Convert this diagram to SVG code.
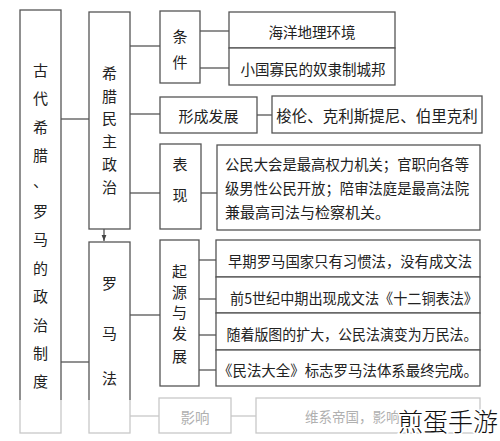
<svg xmlns="http://www.w3.org/2000/svg" width="500" height="441" viewBox="0 0 500 441">
<defs>
<linearGradient id="fade" gradientUnits="userSpaceOnUse" x1="0" y1="0" x2="0" y2="441">
<stop offset="0" stop-color="#555"/>
<stop offset="0.906" stop-color="#555"/>
<stop offset="0.906" stop-color="#c8c8c8"/>
<stop offset="1" stop-color="#c8c8c8"/>
</linearGradient>
<marker id="arr" viewBox="0 0 10 10" refX="10" refY="5" markerWidth="5" markerHeight="5" orient="auto">
<path d="M0,1 L10,5 L0,9 z" fill="#444"/>
</marker>
</defs>
<style>
rect{fill:#fff;stroke:#555;stroke-width:1.3}
rect.f{stroke:url(#fade)}
rect.g{stroke:#c8c8c8}
line{stroke:#555;stroke-width:1.3}
line.g{stroke:#c8c8c8}
text{font-family:"Noto Sans CJK SC","Noto Sans",sans-serif;fill:#222;font-size:15px;text-anchor:middle;dominant-baseline:central}
text.s{font-size:14.5px}
text.l{text-anchor:start}
text.gt{fill:#b0b0b0;font-size:13.5px}
</style>
<rect width="500" height="441" style="fill:#fff;stroke:none"/>
<g id="connectors">
<line x1="61" y1="119" x2="89" y2="119"/>
<line x1="61" y1="362" x2="89" y2="362"/>
<line x1="104" y1="229" x2="104" y2="241" marker-end="url(#arr)"/>
<line x1="130" y1="46" x2="160" y2="46"/>
<line x1="130" y1="114" x2="160" y2="114"/>
<line x1="130" y1="193" x2="160" y2="193"/>
<line x1="200" y1="31" x2="229" y2="31"/>
<line x1="200" y1="68" x2="229" y2="68"/>
<line x1="257" y1="115" x2="272" y2="115"/>
<line x1="201" y1="193" x2="217" y2="193"/>
<line x1="130" y1="315" x2="160" y2="315"/>
<line x1="199" y1="260" x2="216" y2="260"/>
<line x1="199" y1="299" x2="216" y2="299"/>
<line x1="199" y1="335" x2="216" y2="335"/>
<line x1="199" y1="370" x2="216" y2="370"/>
<line class="g" x1="130" y1="416" x2="159" y2="416"/>
<line class="g" x1="231" y1="416" x2="256" y2="416"/>
</g>
<g id="root">
<rect class="f" x="20" y="10" width="41" height="423"/>
<text x="40.5" y="69">古</text><text x="40.5" y="97.5">代</text><text x="40.5" y="126">希</text><text x="40.5" y="154">腊</text><text x="40.5" y="180">、</text><text x="40.5" y="210">罗</text><text x="40.5" y="238">马</text><text x="40.5" y="267">的</text><text x="40.5" y="295">政</text><text x="40.5" y="324">治</text><text x="40.5" y="352">制</text><text x="40.5" y="380">度</text>
</g>
<g id="greece">
<rect x="89" y="12" width="41" height="217"/>
<text x="109.5" y="72">希</text><text x="109.5" y="95">腊</text><text x="109.5" y="117">民</text><text x="109.5" y="140">主</text><text x="109.5" y="163">政</text><text x="109.5" y="186">治</text>
</g>
<g id="rome">
<rect class="f" x="89" y="242" width="41" height="191"/>
<text x="109.5" y="282">罗</text><text x="109.5" y="332">马</text><text x="109.5" y="377">法</text>
</g>
<g id="cond">
<rect x="160" y="11" width="40" height="72"/>
<text x="180" y="35">条</text><text x="180" y="61">件</text>
</g>
<g id="cond1">
<rect x="229" y="12" width="166" height="36"/>
<text class="s" x="312" y="31">海洋地理环境</text>
</g>
<g id="cond2">
<rect x="229" y="48" width="166" height="37"/>
<text class="s" x="313" y="68">小国寡民的奴隶制城邦</text>
</g>
<g id="dev">
<rect x="160" y="97" width="97" height="36"/>
<text x="208.5" y="115">形成发展</text>
</g>
<g id="dev1">
<rect x="272" y="96" width="210" height="37"/>
<text x="377" y="115" style="font-size:15.5px">梭伦、克利斯提尼、伯里克利</text>
</g>
<g id="show">
<rect x="160" y="144" width="41" height="85"/>
<text x="180" y="163">表</text><text x="180" y="194">现</text>
</g>
<g id="show1">
<rect x="217" y="145" width="263" height="85"/>
<text class="l" x="225" y="163" textLength="244" lengthAdjust="spacingAndGlyphs">公民大会是最高权力机关；官职向各等</text>
<text class="l" x="225" y="187" textLength="244" lengthAdjust="spacingAndGlyphs">级男性公民开放；陪审法庭是最高法院</text>
<text class="l" x="225" y="211">兼最高司法与检察机关。</text>
</g>
<g id="origin">
<rect x="160" y="240" width="39" height="146"/>
<text x="179.5" y="270">起</text><text x="179.5" y="291">源</text><text x="179.5" y="311">与</text><text x="179.5" y="332">发</text><text x="179.5" y="355">展</text>
</g>
<g id="origin-rows">
<rect x="216" y="240" width="264" height="37"/>
<rect x="216" y="277" width="264" height="36"/>
<rect x="216" y="313" width="264" height="37"/>
<rect x="216" y="350" width="264" height="36"/>
<text class="s" x="350" y="260" textLength="244" lengthAdjust="spacingAndGlyphs">早期罗马国家只有习惯法，没有成文法</text>
<text class="s" x="354" y="297" textLength="248" lengthAdjust="spacingAndGlyphs">前5世纪中期出现成文法《十二铜表法》</text>
<text class="s" x="352" y="333" textLength="251" lengthAdjust="spacingAndGlyphs">随着版图的扩大，公民法演变为万民法。</text>
<text class="s" x="348" y="369" textLength="260" lengthAdjust="spacingAndGlyphs">《民法大全》标志罗马法体系最终完成。</text>
</g>
<g id="impact">
<rect class="g" x="159" y="398" width="72" height="35"/>
<text class="gt" x="195" y="416" style="font-size:14.5px">影响</text>
</g>
<g id="impact1">
<rect class="g" x="256" y="398" width="224" height="35"/>
<text class="gt l" x="305" y="416">维系帝国，影响</text>
</g>
<text x="398" y="420" textLength="100" lengthAdjust="spacingAndGlyphs" style="text-anchor:start;font-size:25px;font-weight:300;fill:#111;stroke:#fff;stroke-width:3;paint-order:stroke">煎蛋手游</text>
</svg>
